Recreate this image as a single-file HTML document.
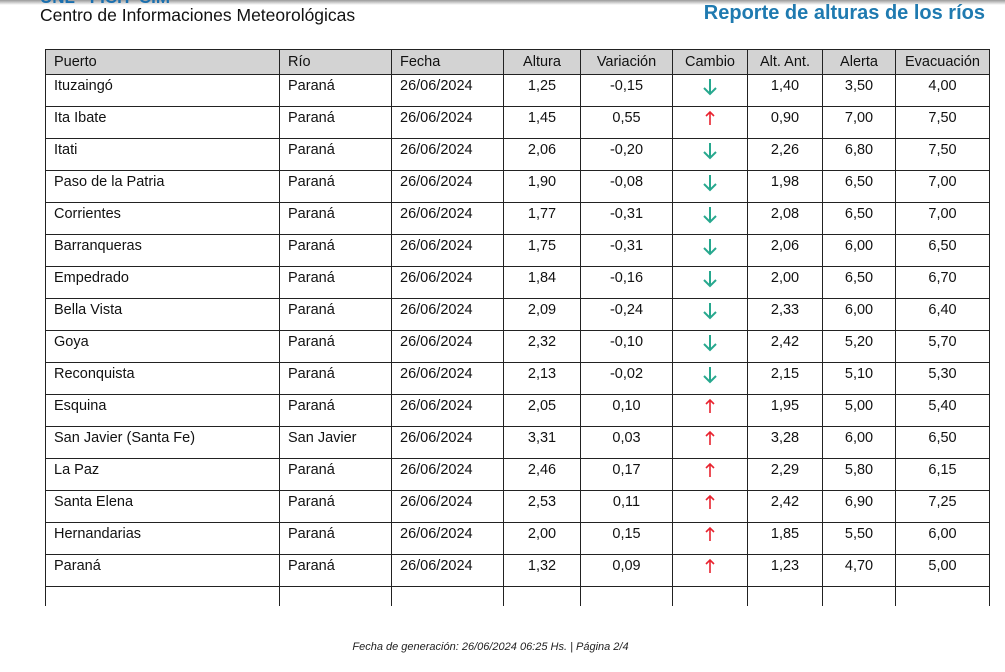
<!DOCTYPE html>
<html><head><meta charset="utf-8"><style>
body{margin:0;width:1005px;height:672px;background:#fff;overflow:hidden;position:relative;font-family:"Liberation Sans",Arial,sans-serif;}
.top{position:absolute;left:0;top:0;width:1005px;height:5px;background:linear-gradient(#9a9a9a,#fff);}
.cim{position:absolute;left:40px;top:5px;font-size:17.5px;color:#111;}
.cut{position:absolute;left:40px;top:-12px;font-size:17px;font-weight:bold;color:#1a6fae;}
.title{position:absolute;right:20px;top:2px;font-size:20px;font-weight:bold;color:#1f7ab0;}
table{position:absolute;left:45px;top:49px;border-collapse:collapse;table-layout:fixed;font-size:14.5px;color:#111;}
td,th{border:1.5px solid #222;padding:0 8px;height:31px;vertical-align:top;line-height:23px;font-weight:normal;white-space:nowrap;overflow:hidden}
th{background:#d3d3d3;height:23px;line-height:24px;}
.c{text-align:center}
.l{text-align:left}
tr.last td{border-bottom:none;height:19px}
svg{margin-top:3px}
.foot{position:absolute;left:-12px;width:1005px;top:641px;text-align:center;font-size:11px;font-style:italic;color:#222;}
</style></head><body>
<div class="top"></div>
<div class="cut">UNL - FICH &nbsp;CIM</div>
<div class="cim">Centro de Informaciones Meteorológicas</div>
<div class="title">Reporte de alturas de los ríos</div>
<table>
<colgroup><col style="width:234px"><col style="width:112px"><col style="width:112px"><col style="width:77px"><col style="width:92px"><col style="width:75px"><col style="width:75px"><col style="width:73px"><col style="width:94px"></colgroup>
<tr><th class="l">Puerto</th><th class="l">Río</th><th class="l">Fecha</th><th class="c">Altura</th><th class="c">Variación</th><th class="c">Cambio</th><th class="c">Alt. Ant.</th><th class="c">Alerta</th><th class="c">Evacuación</th></tr>
<tr><td>Ituzaingó</td><td>Paraná</td><td>26/06/2024</td><td class="c">1,25</td><td class="c">-0,15</td><td class="c"><svg width="16" height="18"><path d="M8 1V16M2 10L8 16L14 10" stroke="#27a88e" stroke-width="2" fill="none"/></svg></td><td class="c">1,40</td><td class="c">3,50</td><td class="c">4,00</td></tr>
<tr><td>Ita Ibate</td><td>Paraná</td><td>26/06/2024</td><td class="c">1,45</td><td class="c">0,55</td><td class="c"><svg width="12" height="16"><path d="M6 15V2M2 6L6 2L10 6" stroke="#e8232f" stroke-width="1.6" fill="none"/></svg></td><td class="c">0,90</td><td class="c">7,00</td><td class="c">7,50</td></tr>
<tr><td>Itati</td><td>Paraná</td><td>26/06/2024</td><td class="c">2,06</td><td class="c">-0,20</td><td class="c"><svg width="16" height="18"><path d="M8 1V16M2 10L8 16L14 10" stroke="#27a88e" stroke-width="2" fill="none"/></svg></td><td class="c">2,26</td><td class="c">6,80</td><td class="c">7,50</td></tr>
<tr><td>Paso de la Patria</td><td>Paraná</td><td>26/06/2024</td><td class="c">1,90</td><td class="c">-0,08</td><td class="c"><svg width="16" height="18"><path d="M8 1V16M2 10L8 16L14 10" stroke="#27a88e" stroke-width="2" fill="none"/></svg></td><td class="c">1,98</td><td class="c">6,50</td><td class="c">7,00</td></tr>
<tr><td>Corrientes</td><td>Paraná</td><td>26/06/2024</td><td class="c">1,77</td><td class="c">-0,31</td><td class="c"><svg width="16" height="18"><path d="M8 1V16M2 10L8 16L14 10" stroke="#27a88e" stroke-width="2" fill="none"/></svg></td><td class="c">2,08</td><td class="c">6,50</td><td class="c">7,00</td></tr>
<tr><td>Barranqueras</td><td>Paraná</td><td>26/06/2024</td><td class="c">1,75</td><td class="c">-0,31</td><td class="c"><svg width="16" height="18"><path d="M8 1V16M2 10L8 16L14 10" stroke="#27a88e" stroke-width="2" fill="none"/></svg></td><td class="c">2,06</td><td class="c">6,00</td><td class="c">6,50</td></tr>
<tr><td>Empedrado</td><td>Paraná</td><td>26/06/2024</td><td class="c">1,84</td><td class="c">-0,16</td><td class="c"><svg width="16" height="18"><path d="M8 1V16M2 10L8 16L14 10" stroke="#27a88e" stroke-width="2" fill="none"/></svg></td><td class="c">2,00</td><td class="c">6,50</td><td class="c">6,70</td></tr>
<tr><td>Bella Vista</td><td>Paraná</td><td>26/06/2024</td><td class="c">2,09</td><td class="c">-0,24</td><td class="c"><svg width="16" height="18"><path d="M8 1V16M2 10L8 16L14 10" stroke="#27a88e" stroke-width="2" fill="none"/></svg></td><td class="c">2,33</td><td class="c">6,00</td><td class="c">6,40</td></tr>
<tr><td>Goya</td><td>Paraná</td><td>26/06/2024</td><td class="c">2,32</td><td class="c">-0,10</td><td class="c"><svg width="16" height="18"><path d="M8 1V16M2 10L8 16L14 10" stroke="#27a88e" stroke-width="2" fill="none"/></svg></td><td class="c">2,42</td><td class="c">5,20</td><td class="c">5,70</td></tr>
<tr><td>Reconquista</td><td>Paraná</td><td>26/06/2024</td><td class="c">2,13</td><td class="c">-0,02</td><td class="c"><svg width="16" height="18"><path d="M8 1V16M2 10L8 16L14 10" stroke="#27a88e" stroke-width="2" fill="none"/></svg></td><td class="c">2,15</td><td class="c">5,10</td><td class="c">5,30</td></tr>
<tr><td>Esquina</td><td>Paraná</td><td>26/06/2024</td><td class="c">2,05</td><td class="c">0,10</td><td class="c"><svg width="12" height="16"><path d="M6 15V2M2 6L6 2L10 6" stroke="#e8232f" stroke-width="1.6" fill="none"/></svg></td><td class="c">1,95</td><td class="c">5,00</td><td class="c">5,40</td></tr>
<tr><td>San Javier (Santa Fe)</td><td>San Javier</td><td>26/06/2024</td><td class="c">3,31</td><td class="c">0,03</td><td class="c"><svg width="12" height="16"><path d="M6 15V2M2 6L6 2L10 6" stroke="#e8232f" stroke-width="1.6" fill="none"/></svg></td><td class="c">3,28</td><td class="c">6,00</td><td class="c">6,50</td></tr>
<tr><td>La Paz</td><td>Paraná</td><td>26/06/2024</td><td class="c">2,46</td><td class="c">0,17</td><td class="c"><svg width="12" height="16"><path d="M6 15V2M2 6L6 2L10 6" stroke="#e8232f" stroke-width="1.6" fill="none"/></svg></td><td class="c">2,29</td><td class="c">5,80</td><td class="c">6,15</td></tr>
<tr><td>Santa Elena</td><td>Paraná</td><td>26/06/2024</td><td class="c">2,53</td><td class="c">0,11</td><td class="c"><svg width="12" height="16"><path d="M6 15V2M2 6L6 2L10 6" stroke="#e8232f" stroke-width="1.6" fill="none"/></svg></td><td class="c">2,42</td><td class="c">6,90</td><td class="c">7,25</td></tr>
<tr><td>Hernandarias</td><td>Paraná</td><td>26/06/2024</td><td class="c">2,00</td><td class="c">0,15</td><td class="c"><svg width="12" height="16"><path d="M6 15V2M2 6L6 2L10 6" stroke="#e8232f" stroke-width="1.6" fill="none"/></svg></td><td class="c">1,85</td><td class="c">5,50</td><td class="c">6,00</td></tr>
<tr><td>Paraná</td><td>Paraná</td><td>26/06/2024</td><td class="c">1,32</td><td class="c">0,09</td><td class="c"><svg width="12" height="16"><path d="M6 15V2M2 6L6 2L10 6" stroke="#e8232f" stroke-width="1.6" fill="none"/></svg></td><td class="c">1,23</td><td class="c">4,70</td><td class="c">5,00</td></tr>
<tr class="last"><td></td><td></td><td></td><td></td><td></td><td></td><td></td><td></td><td></td></tr>
</table>
<div class="foot">Fecha de generación: 26/06/2024 06:25 Hs. | Página 2/4</div>
</body></html>
